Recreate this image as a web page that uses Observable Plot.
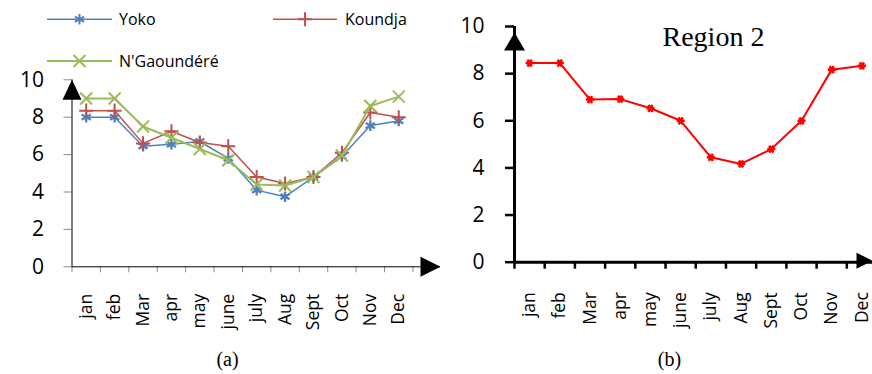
<!DOCTYPE html>
<html><head><meta charset="utf-8">
<script src="https://cdn.jsdelivr.net/npm/d3@7"></script>
<script src="https://cdn.jsdelivr.net/npm/@observablehq/plot@0.6"></script>
<style>
body{margin:0;background:#fff;width:872px;height:374px;position:relative;overflow:hidden;font-family:"Open Sans",sans-serif;}
#a,#b{position:absolute;top:0}
#a{left:0} #b{left:440px}
#overlay{position:absolute;left:0;top:0;pointer-events:none}
</style></head><body>
<div id="a"></div><div id="b"></div>
<svg id="overlay" width="872" height="374"></svg>
<script>
// ---- data ----
const months = ["jan","feb","Mar","apr","may","june","july","Aug","Sept","Oct","Nov","Dec"];
const yoko       = [8.0, 8.0, 6.45, 6.55, 6.7, 5.8, 4.1, 3.75, 4.8, 5.9, 7.55, 7.8];
const koundja    = [8.35, 8.35, 6.6, 7.25, 6.65, 6.45, 4.8, 4.45, 4.8, 6.1, 8.25, 8.0];
const ngaoundere = [9.0, 9.0, 7.5, 6.9, 6.3, 5.7, 4.4, 4.35, 4.8, 5.95, 8.6, 9.1];
const region2    = [8.45, 8.45, 6.9, 6.92, 6.53, 6.0, 4.45, 4.17, 4.8, 6.0, 8.17, 8.33];
const yTicks = [0, 2, 4, 6, 8, 10];
const seriesNames = ["Yoko", "Koundja", "N'Gaoundéré"];
const seriesColors = ["#4F81BD", "#C0504D", "#9BBB59"];
const seriesSymbols = ["asterisk", "plus", "times"];

const rows = months.map((m, i) => ({i, m, yoko: yoko[i], koundja: koundja[i], ngaoundere: ngaoundere[i], region2: region2[i]}));
const xi = d => d.i + 0.5;

// arrow-head symbols: tip at origin
const upArrow = (w, h) => ({draw(ctx){ctx.moveTo(0,0);ctx.lineTo(w/2,h);ctx.lineTo(-w/2,h);ctx.closePath();}});
const rightArrow = (l, h) => ({draw(ctx){ctx.moveTo(0,0);ctx.lineTo(-l,h/2);ctx.lineTo(-l,-h/2);ctx.closePath();}});

const FONT = "'Open Sans', sans-serif";
const SERIF = "'Liberation Serif', 'Times New Roman', serif";

// ---- chart (a) ----
const chartA = Plot.plot({
  width: 440, height: 374,
  marginLeft: 71.5, marginRight: 0, marginTop: 79.3, marginBottom: 107.7,
  style: {fontFamily: FONT, background: "transparent", color: "black"},
  x: {domain: [0, 12.97], axis: null, label: null},
  y: {domain: [0, 10], axis: null, label: null},
  marks: [
    Plot.axisY(yTicks, {tickSize: 8, tickPadding: 20, stroke: "#8c8c8c", fontSize: 21, fill: "black", label: null}),
    Plot.axisX(d3.range(13), {tickSize: 6, tickFormat: () => "", stroke: "#8c8c8c", label: null}),
    Plot.axisX(rows.map(xi), {tickSize: 0, tickPadding: 27, tickRotate: -90, textAnchor: "end", lineAnchor: "middle",
      tickFormat: d => months[d - 0.5], fontSize: 17.5, fill: "black", label: null}),
    Plot.ruleX([0], {stroke: "black", strokeWidth: 1}),
    Plot.ruleY([0], {stroke: "black", strokeWidth: 1}),
    Plot.line(rows, {x: xi, y: "yoko", stroke: seriesColors[0], strokeWidth: 1.5}),
    Plot.dot(rows, {x: xi, y: "yoko", symbol: "asterisk", r: 5, stroke: seriesColors[0], strokeWidth: 2.3}),
    Plot.line(rows, {x: xi, y: "koundja", stroke: seriesColors[1], strokeWidth: 1.5}),
    Plot.dot(rows, {x: xi, y: "koundja", symbol: "plus", r: 4.6, stroke: seriesColors[1], strokeWidth: 2}),
    Plot.line(rows, {x: xi, y: "ngaoundere", stroke: seriesColors[2], strokeWidth: 2}),
    Plot.dot(rows, {x: xi, y: "ngaoundere", symbol: "times", r: 5.5, stroke: seriesColors[2], strokeWidth: 2}),
    Plot.dot([0], {frameAnchor: "top-left", symbol: upArrow(19, 20), fill: "black", stroke: "none", r: 5}),
    Plot.dot([0], {frameAnchor: "bottom-right", symbol: rightArrow(20, 20), fill: "black", stroke: "none", r: 5})
  ]
});
document.getElementById("a").append(chartA);

// ---- chart (b) ----
const chartB = Plot.plot({
  width: 432, height: 374,
  marginLeft: 74, marginRight: 0, marginTop: 26, marginBottom: 112.3,
  style: {fontFamily: FONT, background: "transparent", color: "black"},
  x: {domain: [0, 11.85], axis: null, label: null},
  y: {domain: [0, 10], axis: null, label: null},
  marks: [
    Plot.axisY(yTicks, {tickSize: 9, tickPadding: 21, stroke: "black", strokeWidth: 2.5, fontSize: 21, fill: "black", label: null}),
    Plot.axisX(d3.range(12), {tickSize: 7, tickFormat: () => "", stroke: "black", strokeWidth: 2.5, label: null}),
    Plot.axisX(rows.map(xi), {tickSize: 0, tickPadding: 30, tickRotate: -90, textAnchor: "end", lineAnchor: "middle",
      tickFormat: d => months[d - 0.5], fontSize: 17.5, fill: "black", label: null}),
    Plot.ruleX([0], {stroke: "black", strokeWidth: 3}),
    Plot.ruleY([0], {stroke: "black", strokeWidth: 3}),
    Plot.line(rows, {x: xi, y: "region2", stroke: "#FF0000", strokeWidth: 2}),
    Plot.dot(rows, {x: xi, y: "region2", symbol: "asterisk", rotate: 90, r: 3.8, stroke: "#FF0000", strokeWidth: 2.6}),
    Plot.dot([0], {frameAnchor: "top-left", dy: 6, symbol: upArrow(21, 18), fill: "black", stroke: "none", r: 5}),
    Plot.dot([0], {frameAnchor: "bottom-right", dy: -1.5, symbol: rightArrow(16, 16), fill: "black", stroke: "none", r: 5}),
    Plot.text(["Region 2"], {frameAnchor: "top-left", dx: 148, dy: 19.7, text: d => d, textAnchor: "start", lineAnchor: "bottom",
      fontFamily: SERIF, fontSize: 28, fill: "black"})
  ]
});
document.getElementById("b").append(chartB);

// ---- legend & captions ----
const ov = d3.select("#overlay");
const legendPos = [{x1: 47, x2: 112, y: 19.3, tx: 119}, {x1: 273, x2: 337, y: 19.3, tx: 345}, {x1: 47, x2: 112, y: 61, tx: 119}];
const symMap = {asterisk: d3.symbolAsterisk, plus: d3.symbolPlus, times: d3.symbolTimes};
const symSize = [Math.PI * 25, Math.PI * 4.6 * 4.6, Math.PI * 5.5 * 5.5];
seriesNames.forEach((name, k) => {
  const p = legendPos[k];
  const g = ov.append("g");
  g.append("line").attr("x1", p.x1).attr("x2", p.x2).attr("y1", p.y).attr("y2", p.y)
    .attr("stroke", seriesColors[k]).attr("stroke-width", k === 2 ? 2 : 1.5);
  g.append("path").attr("transform", `translate(${(p.x1 + p.x2) / 2},${p.y})`)
    .attr("d", d3.symbol(symMap[seriesSymbols[k]], symSize[k])()).attr("fill", "none")
    .attr("stroke", seriesColors[k]).attr("stroke-width", 2);
  g.append("text").attr("x", p.tx).attr("y", p.y + 5.8).text(name)
    .attr("font-family", FONT).attr("font-size", 16).attr("fill", "black");
});
const captions = [{t: "(a)", x: 227.5}, {t: "(b)", x: 669.5}];
captions.forEach(c => ov.append("text").attr("x", c.x).attr("y", 366).attr("text-anchor", "middle")
  .attr("font-family", SERIF).attr("font-size", 20).attr("fill", "black").text(c.t));
</script>
</body></html>
